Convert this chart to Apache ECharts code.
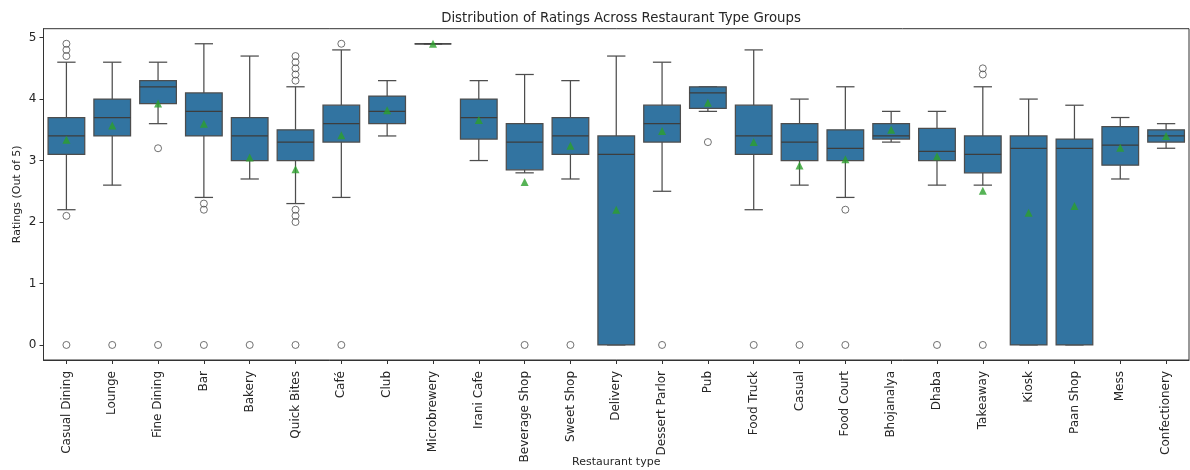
<!DOCTYPE html>
<html>
<head>
<meta charset="utf-8">
<script src="https://cdn.jsdelivr.net/npm/echarts@6/dist/echarts.min.js"></script>
<style>
html,body{margin:0;padding:0;background:#fff;}
#chart{width:1190px;height:470px;}
</style>
</head>
<body>
<div id="chart"></div>
<script>
const categories = ["Casual Dining","Lounge","Fine Dining","Bar","Bakery","Quick Bites","Café","Club","Microbrewery","Irani Cafe","Beverage Shop","Sweet Shop","Delivery","Dessert Parlor","Pub","Food Truck","Casual","Food Court","Bhojanalya","Dhaba","Takeaway","Kiosk","Paan Shop","Mess","Confectionery"];
const whiskerLow  = [2.2, 2.6, 3.6, 2.4, 2.7, 2.3, 2.4, 3.4, 4.9, 3.0, 2.8, 2.7, 0.0, 2.5, 3.8, 2.2, 2.6, 2.4, 3.3, 2.6, 2.6, 0.0, 0.0, 2.7, 3.2];
const q1          = [3.1, 3.4, 3.925, 3.4, 3.0, 3.0, 3.3, 3.6, 4.9, 3.35, 2.85, 3.1, 0.0, 3.3, 3.85, 3.1, 3.0, 3.0, 3.35, 3.0, 2.8, 0.0, 0.0, 2.925, 3.3];
const medians     = [3.4, 3.7, 4.2, 3.8, 3.4, 3.3, 3.6, 3.8, 4.9, 3.7, 3.3, 3.4, 3.1, 3.6, 4.1, 3.4, 3.3, 3.2, 3.4, 3.15, 3.1, 3.2, 3.2, 3.25, 3.4];
const q3          = [3.7, 4.0, 4.3, 4.1, 3.7, 3.5, 3.9, 4.05, 4.9, 4.0, 3.6, 3.7, 3.4, 3.9, 4.2, 3.9, 3.6, 3.5, 3.6, 3.525, 3.4, 3.4, 3.35, 3.55, 3.5];
const whiskerHigh = [4.6, 4.6, 4.6, 4.9, 4.7, 4.2, 4.8, 4.3, 4.9, 4.3, 4.4, 4.3, 4.7, 4.6, 4.2, 4.8, 4.0, 4.2, 3.8, 3.8, 4.2, 4.0, 3.9, 3.7, 3.6];
const means       = [3.34, 3.57, 3.93, 3.6, 3.05, 2.86, 3.41, 3.82, 4.9, 3.66, 2.65, 3.24, 2.2, 3.48, 3.94, 3.3, 2.92, 3.02, 3.5, 3.07, 2.51, 2.15, 2.26, 3.21, 3.4];
const outlierValues = [
  [4.7, 4.8, 4.9, 2.1, 0],
  [0],
  [3.2, 0],
  [2.3, 2.2, 0],
  [0],
  [4.3, 4.4, 4.5, 4.6, 4.7, 2.2, 2.1, 2.0, 0],
  [4.9, 0],
  [],
  [],
  [],
  [0],
  [0],
  [],
  [0],
  [3.3],
  [0],
  [0],
  [2.2, 0],
  [],
  [0],
  [4.5, 4.4, 0],
  [],
  [],
  [],
  []
];
const yTicks = [0, 1, 2, 3, 4, 5];
const title = "Distribution of Ratings Across Restaurant Type Groups";
const xName = "Restaurant type";
const yName = "Ratings (Out of 5)";

const boxData = categories.map((c, i) => [i, whiskerLow[i], q1[i], medians[i], q3[i], whiskerHigh[i]]);
const meanData = categories.map((c, i) => [i, means[i]]);
const outlierData = [];
outlierValues.forEach((arr, i) => arr.forEach(v => outlierData.push([i, v])));

const FONT = "DejaVu Sans";
const TXT = "#262626";
const LINE = "#4d4d4d";
const BOX = "#3274a1";

const chart = echarts.init(document.getElementById('chart'), null, {renderer: 'canvas'});
chart.setOption({
  animation: false,
  backgroundColor: '#fff',
  title: {
    text: title, left: 616, top: 7, textAlign: 'center',
    textStyle: {fontFamily: FONT, fontSize: 13.3, fontWeight: 'normal', color: TXT}
  },
  grid: {left: 43.5, right: 1, top: 28.7, bottom: 110, show: true, borderColor: '#333', borderWidth: 1, backgroundColor: 'transparent', outerBoundsMode: 'none', containLabel: false},
  xAxis: {
    type: 'category', data: categories, boundaryGap: true,
    name: xName, nameLocation: 'middle', nameGap: 97, nameMoveOverlap: false,
    nameTextStyle: {fontFamily: FONT, fontSize: 11, color: TXT, verticalAlign: 'top'},
    axisLine: {show: true, onZero: false, lineStyle: {color: '#333', width: 1}},
    axisTick: {show: true, alignWithLabel: true, length: 4, lineStyle: {color: '#333'}},
    axisLabel: {rotate: 90, interval: 0, fontFamily: FONT, fontSize: 12, color: TXT, margin: 11},
    splitLine: {show: false}
  },
  yAxis: {
    type: 'value', min: -0.245, max: 5.145,
    name: yName, nameLocation: 'middle', nameGap: 21, nameMoveOverlap: false,
    nameTextStyle: {fontFamily: FONT, fontSize: 11, color: TXT},
    axisLine: {show: true, onZero: false, lineStyle: {color: '#333', width: 1}},
    axisTick: {show: true, length: 4, customValues: yTicks, lineStyle: {color: '#333'}},
    axisLabel: {fontFamily: FONT, fontSize: 12, color: TXT, margin: 7, customValues: yTicks},
    splitLine: {show: false}
  },
  series: [
    {
      type: 'custom',
      data: boxData,
      encode: {x: 0, y: [1, 2, 3, 4, 5]},
      z: 2,
      renderItem: function (params, api) {
        const i = api.value(0);
        const lo = api.coord([i, api.value(1)]);
        const b1 = api.coord([i, api.value(2)]);
        const md = api.coord([i, api.value(3)]);
        const b3 = api.coord([i, api.value(4)]);
        const hi = api.coord([i, api.value(5)]);
        const band = api.size([1, 0])[0];
        const bw = band * 0.8;
        const cw = bw / 2;
        const x = lo[0];
        const ls = {stroke: LINE, lineWidth: 1.25};
        return {
          type: 'group',
          children: [
            {type: 'line', shape: {x1: x, y1: hi[1], x2: x, y2: b3[1]}, style: ls},
            {type: 'line', shape: {x1: x, y1: b1[1], x2: x, y2: lo[1]}, style: ls},
            {type: 'line', shape: {x1: x - cw / 2, y1: hi[1], x2: x + cw / 2, y2: hi[1]}, style: ls},
            {type: 'line', shape: {x1: x - cw / 2, y1: lo[1], x2: x + cw / 2, y2: lo[1]}, style: ls},
            {type: 'rect', shape: {x: x - bw / 2, y: b3[1], width: bw, height: b1[1] - b3[1]}, style: {fill: BOX, stroke: LINE, lineWidth: 1.25}},
            {type: 'line', shape: {x1: x - bw / 2, y1: md[1], x2: x + bw / 2, y2: md[1]}, style: {stroke: '#3d3d3d', lineWidth: 1.25}}
          ]
        };
      }
    },
    {
      type: 'scatter',
      data: outlierData,
      symbol: 'circle',
      symbolSize: 7,
      z: 3,
      itemStyle: {color: 'rgba(255,255,255,0)', borderColor: LINE, borderWidth: 1}
    },
    {
      type: 'scatter',
      data: meanData,
      symbol: 'triangle',
      symbolSize: 8,
      z: 4,
      itemStyle: {color: '#2ca02c'}
    }
  ]
});
</script>
</body>
</html>
